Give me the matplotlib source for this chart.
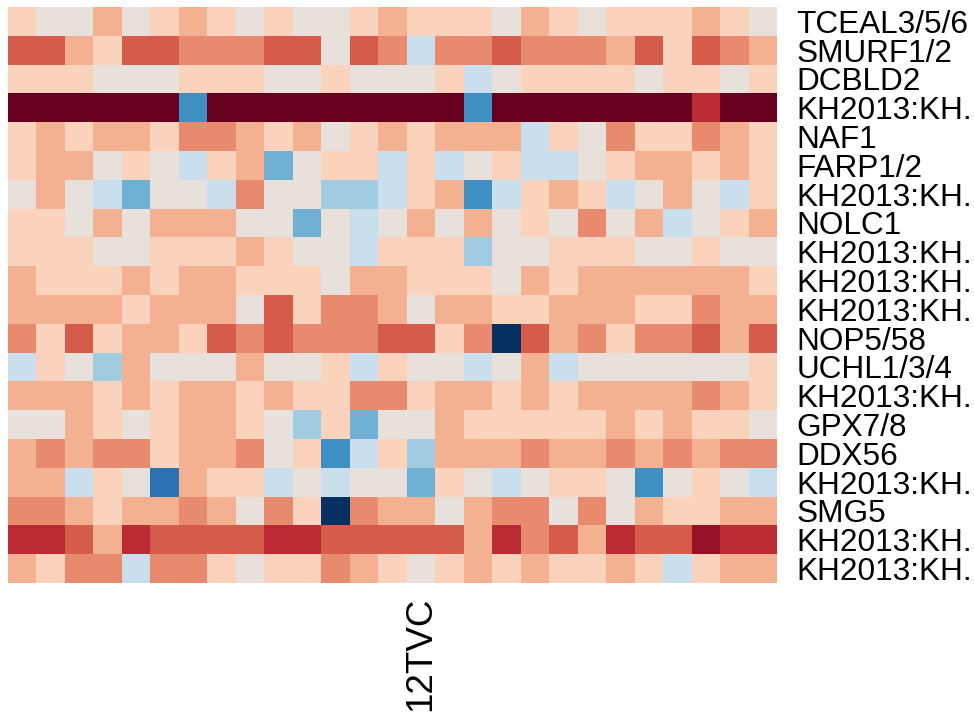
import matplotlib
matplotlib.use("Agg")
import matplotlib.pyplot as plt
import numpy as np
from matplotlib.colors import ListedColormap, BoundaryNorm

row_labels = ["TCEAL3/5/6", "SMURF1/2", "DCBLD2", "KH2013:KH.", "NAF1", "FARP1/2",
              "KH2013:KH.", "NOLC1", "KH2013:KH.", "KH2013:KH.", "KH2013:KH.",
              "NOP5/58", "UCHL1/3/4", "KH2013:KH.", "GPX7/8", "DDX56",
              "KH2013:KH.", "SMG5", "KH2013:KH.", "KH2013:KH."]

col_labels = [""] * 14 + ["12TVC"] + [""] * 12

values = [
    [1, 0, 0, 2, 0, 1, 2, 1, 0, 1, 0, 0, 1, 2, 1, 1, 1, 0, 2, 1, 0, 1, 1, 1, 2, 1, 0],
    [4, 4, 2, 1, 4, 4, 3, 3, 3, 4, 4, 0, 4, 3, -1, 3, 3, 4, 3, 3, 3, 2, 4, 1, 4, 3, 2],
    [1, 1, 1, 0, 0, 0, 1, 1, 1, 0, 0, 1, 0, 0, 0, 1, -1, 0, 1, 1, 1, 1, 0, 1, 1, 0, 1],
    [7, 7, 7, 7, 7, 7, -4, 7, 7, 7, 7, 7, 7, 7, 7, 7, -4, 7, 7, 7, 7, 7, 7, 7, 5, 7, 7],
    [1, 2, 1, 2, 2, 1, 3, 3, 2, 1, 2, 0, 1, 2, 1, 2, 2, 2, -1, 1, 0, 3, 1, 1, 3, 2, 1],
    [1, 2, 2, 0, 1, 0, -1, 1, 2, -3, 0, 1, 1, -1, 1, -1, 0, 1, -1, -1, 0, 1, 2, 2, 1, 2, 1],
    [0, 2, 0, -1, -3, 0, 0, -1, 3, 0, 0, -2, -2, -1, 1, 2, -4, -1, 1, 2, 1, -1, 0, 2, 0, -1, 1],
    [1, 1, 0, 2, 0, 2, 2, 2, 0, 0, -3, 0, -1, 0, 2, 0, 2, 0, 1, 0, 3, 0, 2, -1, 0, 1, 2],
    [1, 1, 1, 0, 0, 1, 1, 1, 2, 1, 0, 0, -1, 1, 1, 1, -2, 0, 0, 1, 1, 1, 0, 0, 1, 0, 0],
    [2, 1, 1, 1, 2, 1, 2, 2, 1, 1, 1, 0, 2, 2, 1, 1, 1, 0, 2, 1, 2, 2, 2, 2, 2, 2, 1],
    [2, 2, 2, 2, 1, 2, 2, 2, 0, 4, 1, 3, 3, 2, 0, 2, 2, 1, 1, 2, 2, 2, 1, 1, 3, 2, 2],
    [3, 1, 4, 1, 2, 2, 1, 4, 3, 4, 3, 3, 3, 4, 4, 1, 3, -6, 4, 2, 3, 1, 3, 3, 4, 2, 4],
    [-1, 1, 0, -2, 2, 0, 0, 0, 2, 0, 0, 1, -1, 1, 0, 0, -1, 0, 2, -1, 0, 0, 0, 0, 0, 0, 1],
    [2, 2, 2, 1, 2, 1, 2, 2, 1, 2, 1, 1, 3, 3, 1, 2, 2, 1, 2, 1, 2, 2, 2, 2, 3, 2, 1],
    [0, 0, 2, 1, 0, 1, 2, 2, 1, 0, -2, 1, -3, 0, 0, 2, 1, 1, 1, 1, 1, 2, 1, 2, 1, 1, 0],
    [2, 3, 2, 3, 3, 1, 2, 2, 3, 0, 1, -4, -1, 1, -2, 2, 2, 2, 3, 2, 2, 3, 2, 3, 2, 3, 3],
    [2, 2, -1, 1, 0, -5, 2, 1, 1, -1, 0, -1, 0, 0, -3, 1, 0, -1, 0, 1, 1, 0, -4, 0, 1, 0, -1],
    [3, 3, 2, 1, 2, 2, 3, 2, 0, 3, 1, -6, 3, 2, 2, 0, 2, 3, 3, 0, 3, 0, 2, 1, 1, 2, 2],
    [5, 5, 4, 2, 5, 4, 4, 4, 4, 5, 5, 4, 4, 4, 4, 4, 2, 5, 3, 4, 2, 5, 4, 4, 6, 5, 5],
    [2, 1, 3, 3, -1, 3, 3, 1, 0, 1, 1, 3, 2, 1, 0, 1, 2, 1, 2, 1, 1, 2, 1, -1, 1, 2, 2],
]

level_colors = ["#053061", "#2c71b2", "#3f90c2", "#70b0d4", "#a0cbe1", "#c9dfed",
                "#e8e0db", "#fbd2bc", "#f4b191", "#e88a6d", "#d55b4b", "#bb2b34",
                "#981027", "#67001f"]

cmap = ListedColormap(level_colors)
norm = BoundaryNorm(np.arange(-6.5, 8.5, 1), cmap.N)

data = np.array(values, dtype=float)
nrows, ncols = data.shape

fig = plt.figure(figsize=(9.74, 7.17), dpi=100)
ax = fig.add_axes([8 / 974, (717 - 583) / 717, 769 / 974, 576 / 717])
ax.pcolormesh(np.arange(ncols + 1), np.arange(nrows + 1), data, cmap=cmap, norm=norm,
              edgecolors="none", antialiased=False)
ax.set_xlim(0, ncols)
ax.set_ylim(nrows, 0)
for s in ax.spines.values():
    s.set_visible(False)

ax.yaxis.tick_right()
ax.set_yticks(np.arange(nrows) + 0.5)
ax.set_yticklabels(row_labels, fontsize=22.7, family=["Liberation Sans", "DejaVu Sans"])
ax.set_xticks(np.arange(ncols) + 0.5)
ax.set_xticklabels(col_labels, rotation=90, fontsize=26.5, family=["Liberation Sans", "DejaVu Sans"],
                   ha="center", va="top")
ax.tick_params(axis="y", length=0, pad=14)
ax.tick_params(axis="x", length=0, pad=10)

fig.savefig("out.png", dpi=100)
